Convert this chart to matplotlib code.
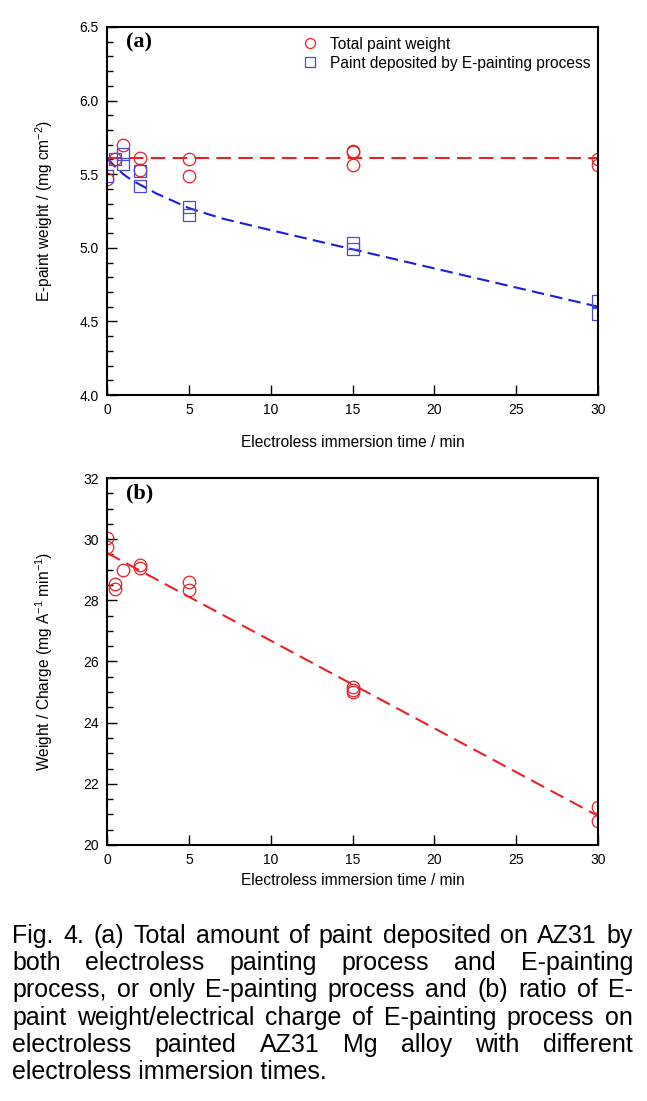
import matplotlib
matplotlib.use("Agg")
import matplotlib.pyplot as plt
from matplotlib.ticker import MultipleLocator, FormatStrFormatter

plt.rcParams['font.family'] = ['Liberation Sans', 'DejaVu Sans']
plt.rcParams['mathtext.fontset'] = 'custom'
plt.rcParams['mathtext.rm'] = 'Liberation Sans'
plt.rcParams['mathtext.it'] = 'Liberation Sans'

# (a) total paint weight, mg cm-2
time_total = [0, 0.5, 1, 2, 2, 5, 5, 15, 15, 15, 30, 30]
total_weight = [5.47, 5.60, 5.70, 5.61, 5.53, 5.60, 5.49, 5.66, 5.65, 5.56, 5.60, 5.56]
total_fit_x = [0, 30]
total_fit_y = [5.61, 5.61]

# (a) paint deposited by E-painting
time_e = [0, 0.5, 1, 1, 2, 2, 5, 5, 15, 15, 30, 30]
e_weight = [5.49, 5.60, 5.64, 5.57, 5.52, 5.42, 5.28, 5.22, 5.03, 4.99, 4.64, 4.55]
e_fit_x = [0, 0.5, 1, 1.5, 2, 3, 4, 5, 7, 10, 15, 20, 25, 30]
e_fit_y = [5.61, 5.55, 5.50, 5.46, 5.43, 5.37, 5.32, 5.27, 5.20, 5.12, 4.99, 4.86, 4.73, 4.60]

# (b) weight / charge
time_b = [0, 0, 0.5, 0.5, 1, 2, 2, 5, 5, 15, 15, 15, 30, 30]
ratio = [30.05, 29.75, 28.55, 28.38, 29.00, 29.15, 29.05, 28.60, 28.35, 25.15, 25.07, 25.00, 21.25, 20.78]
ratio_fit_x = [0, 30]
ratio_fit_y = [29.55, 20.95]

caption = [
    "Fig. 4. (a) Total amount of paint deposited on AZ31 by",
    "both electroless painting process and E-painting",
    "process, or only E-painting process and (b) ratio of E-",
    "paint weight/electrical charge of E-painting process on",
    "electroless painted AZ31 Mg alloy with different",
    "electroless immersion times.",
]

RED = '#e8202a'
BLUE_LINE = '#1c1ce0'
BLUE_MK = '#4848d0'

W, H = 647, 1101
fig = plt.figure(figsize=(W / 100, H / 100), dpi=100)


def make_axes(top_px, bottom_px):
    ax = fig.add_axes([107 / W, 1 - bottom_px / H, 491 / W, (bottom_px - top_px) / H])
    for s in ax.spines.values():
        s.set_linewidth(1.5)
    ax.tick_params(which='both', direction='in', top=False, right=False,
                   labelsize=10, pad=6)
    ax.tick_params(which='major', length=7, width=1)
    ax.tick_params(which='minor', length=4, width=1)
    ax.set_xlim(0, 30)
    ax.xaxis.set_major_locator(MultipleLocator(5))
    return ax


# panel (a)
ax1 = make_axes(27, 395)
ax1.set_ylim(4.0, 6.5)
ax1.yaxis.set_major_locator(MultipleLocator(0.5))
ax1.yaxis.set_minor_locator(MultipleLocator(0.1))
ax1.yaxis.set_major_formatter(FormatStrFormatter('%.1f'))

ax1.plot(total_fit_x, total_fit_y, color=RED, lw=1.5, dashes=(7, 3.5))
ax1.plot(e_fit_x, e_fit_y, color=BLUE_LINE, lw=1.5, dashes=(6, 3))
ax1.plot(time_total, total_weight, 'o', ms=9, mfc='none', mec=RED, mew=0.9,
         label='Total paint weight')
ax1.plot(time_e, e_weight, 's', ms=9, mfc='none', mec=BLUE_MK, mew=0.9,
         label='Paint deposited by E-painting process')
ax1.legend(loc='upper right', frameon=False, fontsize=11.2, handlelength=1.0,
           handletextpad=0.8, borderaxespad=0.1, labelspacing=0.25,
           bbox_to_anchor=(1.0, 0.995), markerscale=0.8)
ax1.text(0.038, 0.985, '(a)', transform=ax1.transAxes, va='top', ha='left',
         fontsize=16, fontweight='bold', family='Liberation Serif')
ax1.set_xlabel('Electroless immersion time / min', fontsize=11.2, labelpad=13)
ax1.set_ylabel('E-paint weight / (mg cm$^{-2}$)', fontsize=11.2)
ax1.yaxis.set_label_coords(-0.105, 0.5)

# panel (b)
ax2 = make_axes(478, 845)
ax2.set_ylim(20, 32)
ax2.yaxis.set_major_locator(MultipleLocator(2))
ax2.yaxis.set_minor_locator(MultipleLocator(0.5))

ax2.plot(ratio_fit_x, ratio_fit_y, color=RED, lw=1.5, dashes=(7, 3.5))
ax2.plot(time_b, ratio, 'o', ms=9, mfc='none', mec=RED, mew=0.9)
ax2.text(0.038, 0.985, '(b)', transform=ax2.transAxes, va='top', ha='left',
         fontsize=16, fontweight='bold', family='Liberation Serif')
ax2.set_xlabel('Electroless immersion time / min', fontsize=11.2, labelpad=4)
ax2.set_ylabel('Weight / Charge (mg A$^{-1}$ min$^{-1}$)', fontsize=11.2)
ax2.yaxis.set_label_coords(-0.105, 0.5)

# justified caption
renderer = fig.canvas.get_renderer()
x_left, x_right = 12, 633
for i, line in enumerate(caption):
    y = 1 - (943 + 27.2 * i) / H
    words = line.split(' ')
    if i == len(caption) - 1:
        fig.text(x_left / W, y, line, fontsize=18, va='baseline', ha='left')
        continue
    arts = [fig.text(0, y, w, fontsize=18, va='baseline', ha='left') for w in words]
    widths = [a.get_window_extent(renderer).width for a in arts]
    gap = (x_right - x_left - sum(widths)) / (len(words) - 1)
    x = x_left
    for a, w in zip(arts, widths):
        a.set_x(x / W)
        x += w + gap

fig.savefig('out.png', dpi=100)
